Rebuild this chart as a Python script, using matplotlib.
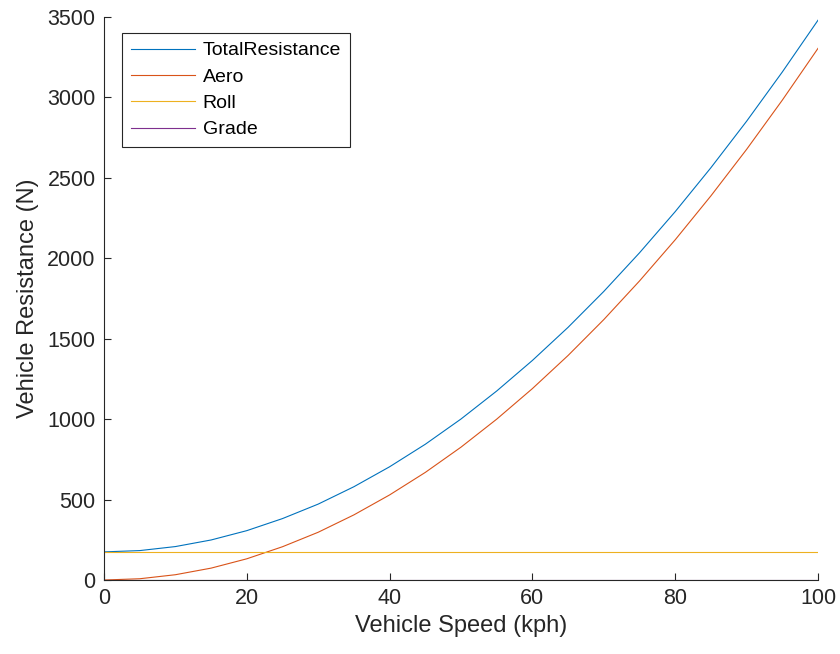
import matplotlib
matplotlib.use("Agg")
import matplotlib.pyplot as plt

plt.rcParams['font.family'] = ['Liberation Sans', 'DejaVu Sans']

# speed in kph, resistance in N
speed = [0, 5, 10, 15, 20, 25, 30, 35, 40, 45, 50, 55, 60, 65, 70, 75, 80, 85, 90, 95, 100]
aero = [0, 8, 33, 74, 132, 207, 297, 405, 529, 669, 826, 1000, 1190, 1396, 1619,
        1859, 2115, 2388, 2677, 2983, 3305]
total = [175, 183, 208, 249, 307, 382, 472, 580, 704, 844, 1001, 1175, 1365, 1571,
         1794, 2034, 2290, 2563, 2852, 3158, 3480]
roll = [175] * len(speed)
grade = [0] * len(speed)

labels = ['TotalResistance', 'Aero', 'Roll', 'Grade']
colors = ['#0072BD', '#D95319', '#EDB120', '#7E2F8E']

fig = plt.figure(figsize=(8.4, 6.54), dpi=100)
ax = fig.add_axes([0.1238, 0.1131, 0.85, 0.8609])

for y, lab, c in zip([total, aero, roll, grade], labels, colors):
    ax.plot(speed, y, color=c, lw=0.8, label=lab)

ax.set_xlim(0, 100)
ax.set_ylim(0, 3500)
ax.set_xticks(range(0, 101, 20))
ax.set_yticks(range(0, 3501, 500))

dark = '#262626'
for s in ['top', 'right']:
    ax.spines[s].set_visible(False)
for s in ['left', 'bottom']:
    ax.spines[s].set_color(dark)
    ax.spines[s].set_linewidth(0.8)
ax.tick_params(direction='in', length=5, width=0.8, colors=dark, labelsize=15.5)
ax.tick_params(axis='x', pad=6)
ax.tick_params(axis='y', pad=6)

ax.set_xlabel('Vehicle Speed (kph)', fontsize=17, color=dark, labelpad=4)
ax.set_ylabel('Vehicle Resistance (N)', fontsize=17, color=dark, labelpad=6)

leg = ax.legend(loc='upper left', bbox_to_anchor=(0.025, 0.9716), borderaxespad=0,
                fontsize=14, fancybox=False, framealpha=1, edgecolor=dark,
                handlelength=3.3, borderpad=0.45, labelspacing=0.45, handletextpad=0.4)
leg.get_frame().set_linewidth(0.8)

fig.savefig('out.png', dpi=100)
